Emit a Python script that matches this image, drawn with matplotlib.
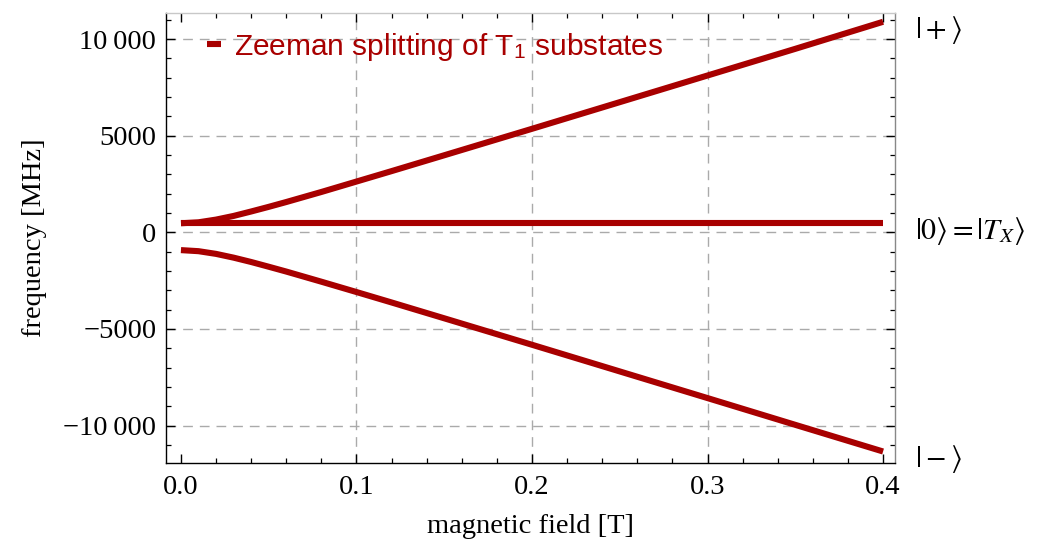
import matplotlib.pyplot as plt
from matplotlib.ticker import MultipleLocator, FuncFormatter

plt.rcParams['mathtext.fontset'] = 'stix'

# field values [T] and the three T1 sublevel energies [MHz]
field = [0.0, 0.01, 0.02, 0.03, 0.04, 0.05, 0.06, 0.08, 0.10, 0.12, 0.15,
         0.20, 0.25, 0.30, 0.35, 0.40]
upper = [470, 520, 660, 850, 1080, 1320, 1570, 2090, 2630, 3170, 3990,
         5360, 6740, 8120, 9500, 10900]
middle = [500] * len(field)
lower = [-920, -975, -1115, -1310, -1535, -1780, -2030, -2555, -3090, -3630,
         -4450, -5820, -7200, -8580, -9965, -11345]
state_labels = [r'$|+\rangle$', r'$|0\rangle = |\mathit{T}_{X}\rangle$', r'$|-\rangle$']

red = '#a80000'
serif = 'Liberation Serif'

fig = plt.figure(figsize=(10.39, 5.41), dpi=100)
ax = fig.add_axes([0.1598, 0.1442, 0.7016, 0.8323])

ax.plot(field, upper, color=red, lw=4.4, solid_capstyle='butt',
        label=r'Zeeman splitting of T$_\mathregular{1}$ substates')
ax.plot(field, middle, color=red, lw=4.4, solid_capstyle='butt')
ax.plot(field, lower, color=red, lw=4.4, solid_capstyle='butt')

ax.set_xlim(-0.0085, 0.4068)
ax.set_ylim(-11940, 11370)

ax.xaxis.set_major_locator(MultipleLocator(0.1))
ax.xaxis.set_minor_locator(MultipleLocator(0.02))
ax.yaxis.set_major_locator(MultipleLocator(5000))
ax.yaxis.set_minor_locator(MultipleLocator(1000))

def yfmt(v, pos):
    s = '%d' % abs(round(v))
    if len(s) > 4:
        s = s[:-3] + '\u2009' + s[-3:]
    return ('\u2212' + s) if v < 0 else s

ax.yaxis.set_major_formatter(FuncFormatter(yfmt))
ax.xaxis.set_major_formatter(FuncFormatter(lambda v, p: '%.1f' % v))

ax.tick_params(which='both', direction='in', top=True, right=True,
               labelsize=20.5, color='black')
ax.tick_params(axis='x', pad=9)
ax.tick_params(axis='y', pad=7)
ax.tick_params(which='major', length=6.5, width=1.0)
ax.tick_params(which='minor', length=3.5, width=0.9)
for lab in ax.get_xticklabels() + ax.get_yticklabels():
    lab.set_fontfamily(serif)

ax.spines['left'].set_color('black')
ax.spines['bottom'].set_color('black')
ax.spines['top'].set_color('#c8c8c8')
ax.spines['right'].set_color('#888888')
for sp in ax.spines.values():
    sp.set_linewidth(1.0)

# grid only at the inner major ticks
for x in [0.1, 0.2, 0.3]:
    ax.axvline(x, color='#aaaaaa', lw=1.0, ls=(0, (7, 5)), zorder=0)
for y in [-10000, -5000, 0, 5000, 10000]:
    ax.axhline(y, color='#aaaaaa', lw=1.0, ls=(0, (7, 5)), zorder=0)

ax.set_xlabel('magnetic field [T]', fontsize=20.5, family=serif, labelpad=10)
ax.set_ylabel('frequency [MHz]', fontsize=20.5, family=serif, labelpad=12)

leg = ax.legend(loc='upper left', bbox_to_anchor=(0.02, 1.02), frameon=False,
                handlelength=0.45, handletextpad=0.45,
                prop={'family': 'Liberation Sans', 'size': 21.5})
for t in leg.get_texts():
    t.set_color(red)

for lab, y in zip(state_labels, [upper[-1], middle[-1], lower[-1]]):
    ax.annotate(lab, xy=(field[-1], y), xytext=(32, -8), textcoords='offset pixels',
                ha='left', va='center', fontsize=21.5, annotation_clip=False)

fig.savefig('out.png', dpi=100)
